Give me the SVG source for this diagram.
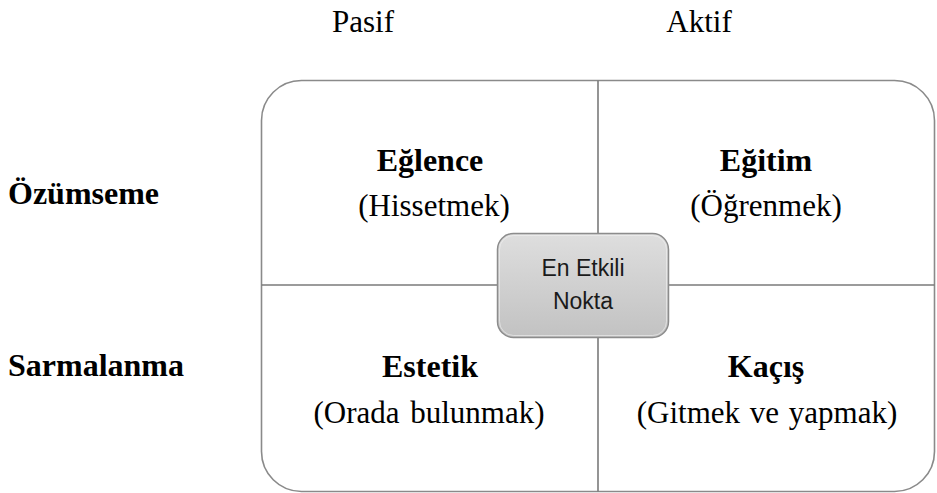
<svg xmlns="http://www.w3.org/2000/svg" width="937" height="493" viewBox="0 0 937 493">
<style>
  .serif { font-family: "Liberation Serif", "Times New Roman", serif; font-size: 31px; fill: #000; }
  .bold { font-weight: bold; font-size: 32px; }
  .mid { text-anchor: middle; }
  .sans { font-family: "Liberation Sans", Arial, sans-serif; font-size: 23px; fill: #1a1a1a; text-anchor: middle; }
  .frame { fill: #fff; stroke: #8a8a8a; stroke-width: 1.6; }
  .div { stroke: #7a7a7a; stroke-width: 1.6; fill: none; }
</style>
<defs>
  <linearGradient id="g" x1="0" y1="0" x2="0" y2="1">
    <stop offset="0" stop-color="#dedede"/>
    <stop offset="1" stop-color="#c2c2c2"/>
  </linearGradient>
</defs>
<rect width="937" height="493" fill="#fff"/>
<g id="axis-labels">
  <text class="serif mid" x="363" y="32">Pasif</text>
  <text class="serif mid" x="699" y="32">Aktif</text>
  <text class="serif bold" x="8" y="204">Özümseme</text>
  <text class="serif bold" x="8" y="376">Sarmalanma</text>
</g>
<g id="frame">
  <rect class="frame" x="261.5" y="80.5" width="673" height="411" rx="40" ry="40"/>
</g>
<g id="connectors">
  <line class="div" x1="598" y1="80.5" x2="598" y2="491.5"/>
  <line class="div" x1="261.5" y1="285" x2="934.5" y2="285"/>
</g>
<g id="eglence">
  <text class="serif bold mid" x="430" y="171">Eğlence</text>
  <text class="serif mid" x="434" y="216">(Hissetmek)</text>
</g>
<g id="egitim">
  <text class="serif bold mid" x="766" y="171">Eğitim</text>
  <text class="serif mid" x="766" y="216">(Öğrenmek)</text>
</g>
<g id="estetik">
  <text class="serif bold mid" x="430" y="377">Estetik</text>
  <text class="serif mid" x="429" y="423" word-spacing="3">(Orada bulunmak)</text>
</g>
<g id="kacis">
  <text class="serif bold mid" x="766" y="377">Kaçış</text>
  <text class="serif mid" x="767" y="423" word-spacing="2">(Gitmek ve yapmak)</text>
</g>
<g id="en-etkili-nokta">
  <rect x="497.5" y="233.5" width="171" height="104" rx="16" ry="16" fill="url(#g)" stroke="#8c8c8c" stroke-width="1.5"/>
  <rect x="499.5" y="235.5" width="167" height="100" rx="14" ry="14" fill="none" stroke="#f2f2f2" stroke-width="1" opacity="0.6"/>
  <text class="sans" x="583" y="276">En Etkili</text>
  <text class="sans" x="583" y="309">Nokta</text>
</g>
</svg>
